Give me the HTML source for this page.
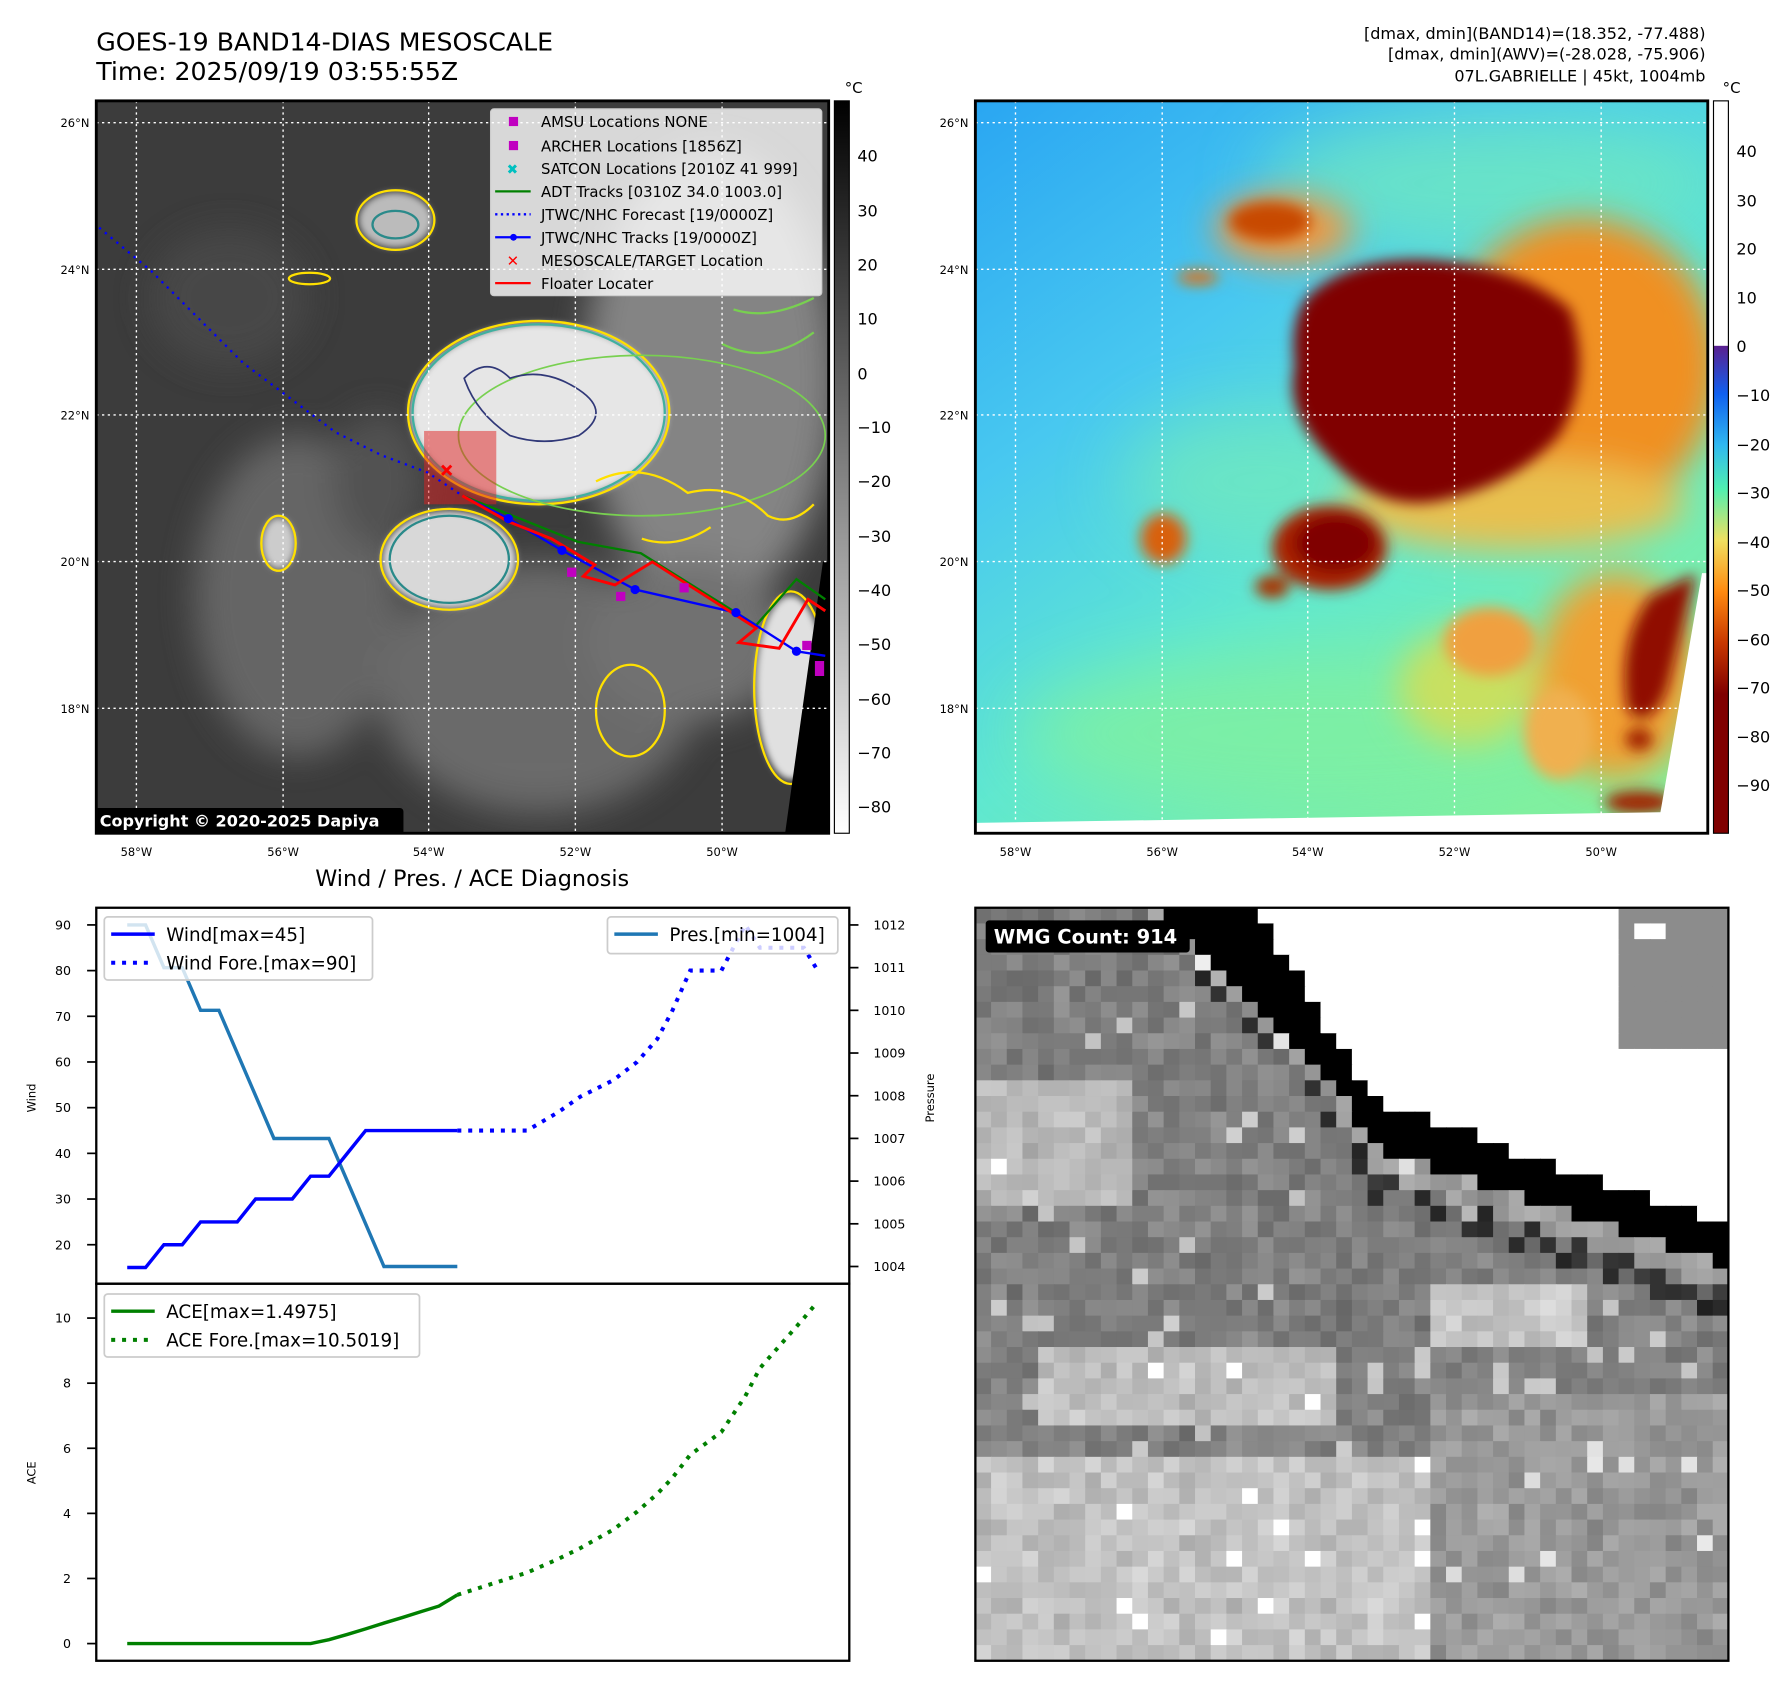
<!DOCTYPE html>
<html><head><meta charset="utf-8"><style>
html,body{margin:0;padding:0;background:#fff;}
svg{display:block;font-family:"DejaVu Sans","Liberation Sans",sans-serif;}
</style></head><body>
<svg id="root" width="1788" height="1690" viewBox="0 0 1560 1474.5" xmlns="http://www.w3.org/2000/svg">
<defs>
<filter id="b6" x="-30%" y="-30%" width="160%" height="160%"><feGaussianBlur stdDeviation="6"/></filter>
<filter id="b3" x="-30%" y="-30%" width="160%" height="160%"><feGaussianBlur stdDeviation="3"/></filter>
<filter id="b15" x="-50%" y="-50%" width="200%" height="200%"><feGaussianBlur stdDeviation="15"/></filter>
<filter id="b30" x="-50%" y="-50%" width="200%" height="200%"><feGaussianBlur stdDeviation="30"/></filter>
<clipPath id="cl1"><rect x="84" y="88" width="639" height="639"/></clipPath>
<clipPath id="cl2"><rect x="851" y="88" width="639" height="639"/></clipPath>
<clipPath id="cl3"><rect x="851" y="792" width="657" height="657"/></clipPath>
<linearGradient id="gbar" x1="0" y1="0" x2="0" y2="1"><stop offset="0" stop-color="#000"/><stop offset="1" stop-color="#fff"/></linearGradient>
<linearGradient id="jbar" x1="0" y1="0" x2="0" y2="1">
<stop offset="0" stop-color="#fff"/><stop offset="0.334" stop-color="#fff"/>
<stop offset="0.335" stop-color="#5a2090"/><stop offset="0.40" stop-color="#1060f0"/>
<stop offset="0.47" stop-color="#30b8f0"/><stop offset="0.53" stop-color="#50f0b0"/>
<stop offset="0.60" stop-color="#f0e060"/><stop offset="0.67" stop-color="#ff8a10"/>
<stop offset="0.74" stop-color="#c83800"/><stop offset="0.81" stop-color="#800000"/><stop offset="1" stop-color="#800000"/></linearGradient>
<linearGradient id="rbg" x1="0" y1="0" x2="0.7" y2="1"><stop offset="0" stop-color="#2aa6f2"/><stop offset="0.35" stop-color="#48c8f0"/><stop offset="0.65" stop-color="#60e8d0"/><stop offset="1" stop-color="#80f0a0"/></linearGradient>
</defs>

<!-- Titles -->
<text x="84" y="44" font-size="22">GOES-19 BAND14-DIAS MESOSCALE</text>
<text x="84" y="70" font-size="22">Time: 2025/09/19 03:55:55Z</text>
<g font-size="14" text-anchor="end">
<text x="1488" y="34">[dmax, dmin](BAND14)=(18.352, -77.488)</text>
<text x="1488" y="52">[dmax, dmin](AWV)=(-28.028, -75.906)</text>
<text x="1488" y="71">07L.GABRIELLE | 45kt, 1004mb</text>
</g>

<!-- LEFT MAP -->
<g clip-path="url(#cl1)">
<rect x="84" y="88" width="639" height="639" fill="#3c3c3c"/>
<g filter="url(#b15)" opacity="0.9">
<ellipse cx="260" cy="520" rx="90" ry="140" fill="#6a6a6a"/>
<ellipse cx="470" cy="600" rx="140" ry="110" fill="#707070"/>
<ellipse cx="620" cy="330" rx="110" ry="200" fill="#8c8c8c"/>
<ellipse cx="600" cy="560" rx="90" ry="70" fill="#777"/>
<ellipse cx="200" cy="260" rx="70" ry="60" fill="#4a4a4a"/>
<ellipse cx="330" cy="420" rx="40" ry="60" fill="#555"/>
</g>
<g filter="url(#b3)">
<ellipse cx="470" cy="360" rx="112" ry="78" fill="#e6e6e6"/>
<ellipse cx="392" cy="488" rx="58" ry="42" fill="#d8d8d8"/>
<ellipse cx="345" cy="192" rx="32" ry="24" fill="#bbb"/>
<ellipse cx="243" cy="474" rx="14" ry="22" fill="#ccc"/>
<ellipse cx="690" cy="600" rx="30" ry="80" fill="#e0e0e0"/>
</g>
<g fill="none" stroke-width="2">
<ellipse cx="470" cy="360" rx="114" ry="80" stroke="#ffe000"/>
<ellipse cx="470" cy="360" rx="110" ry="77" stroke="#40b0a0"/>
<ellipse cx="560" cy="380" rx="160" ry="70" stroke="#78d050" stroke-width="1.5"/>
<ellipse cx="392" cy="488" rx="60" ry="44" stroke="#ffe000"/>
<ellipse cx="392" cy="488" rx="52" ry="38" stroke="#2a8a8a"/>
<ellipse cx="345" cy="192" rx="34" ry="26" stroke="#ffe000"/>
<ellipse cx="345" cy="196" rx="20" ry="12" stroke="#2a8a8a"/>
<ellipse cx="243" cy="474" rx="15" ry="24" stroke="#ffe000"/>
<ellipse cx="270" cy="243" rx="18" ry="5" stroke="#ffe000"/>
<ellipse cx="550" cy="620" rx="30" ry="40" stroke="#ffe000"/>
<ellipse cx="690" cy="600" rx="32" ry="84" stroke="#ffe000"/>
<path d="M405 330 q20 -20 40 0 q30 -10 60 10 q30 20 0 40 q-30 10 -60 0 q-30 -20 -40 -50z" stroke="#303878" stroke-width="1.5"/>
<path d="M520 420 q40 -20 80 10 q40 -10 70 20 q20 10 40 -10 M560 470 q30 10 60 -10" stroke="#ffe000"/>
<path d="M640 270 q30 10 70 -10 M630 300 q40 20 80 -10" stroke="#78d050"/>
</g>
<polygon points="718,490 723,490 723,727 685,727" fill="#000"/>
<g stroke="#fff" stroke-width="1.2" stroke-dasharray="2,3">
<line x1="119" y1="88" x2="119" y2="727"/><line x1="247" y1="88" x2="247" y2="727"/><line x1="374" y1="88" x2="374" y2="727"/><line x1="502" y1="88" x2="502" y2="727"/><line x1="630" y1="88" x2="630" y2="727"/>
<line x1="84" y1="107" x2="723" y2="107"/><line x1="84" y1="235" x2="723" y2="235"/><line x1="84" y1="362" x2="723" y2="362"/><line x1="84" y1="490" x2="723" y2="490"/><line x1="84" y1="618" x2="723" y2="618"/>
</g>
<rect x="370" y="376" width="63" height="64" fill="#e02020" opacity="0.5"/>
<g transform="translate(84,88) scale(0.5028) translate(-165,-185)" fill="none">
<polyline points="170,405 260,480 340,560 420,640 500,700 580,760 660,800 740,830 800,870" stroke="#0000ff" stroke-width="4" stroke-dasharray="4,9"/>
<polyline points="800,870 1000,950 1110,970 1310,1095 1380,1015 1430,1050" stroke="#008000" stroke-width="4"/>
<polyline points="800,870 880,910 973,965 1100,1033 1275,1073 1380,1140 1430,1148" stroke="#0000ff" stroke-width="4"/>
<polyline points="800,870 880,915 955,945 1030,990 1010,1010 1065,1025 1130,985 1310,1100 1280,1125 1350,1135 1400,1050 1430,1070" stroke="#ff0000" stroke-width="5"/>
<g fill="#0000ff"><circle cx="880" cy="910" r="8"/><circle cx="973" cy="965" r="8"/><circle cx="1100" cy="1033" r="8"/><circle cx="1275" cy="1073" r="8"/><circle cx="1380" cy="1140" r="8"/></g>
<g fill="#c000c0"><rect x="982" y="995" width="16" height="16"/><rect x="1067" y="1037" width="16" height="16"/><rect x="1177" y="1022" width="16" height="16"/><rect x="1390" y="1122" width="16" height="16"/><rect x="1412" y="1157" width="16" height="26"/></g>
<path d="M765 818 l16 16 M781 818 l-16 16" stroke="#ff0000" stroke-width="5"/>
</g>
<rect x="80" y="705" width="272" height="24" rx="3" fill="#000"/>
<text x="87" y="721" font-size="14" font-weight="bold" fill="#fff">Copyright © 2020-2025 Dapiya</text>
</g>
<rect x="84" y="88" width="639" height="639" fill="none" stroke="#000" stroke-width="2.5"/>
<!-- legend left map -->
<g>
<rect x="428" y="95" width="289" height="163" rx="3" fill="#fff" fill-opacity="0.8" stroke="#ccc"/>
<g font-size="13">
<rect x="444" y="102" width="8" height="8" fill="#c000c0"/><text x="472" y="111">AMSU Locations NONE</text>
<rect x="444" y="123" width="8" height="8" fill="#c000c0"/><text x="472" y="132">ARCHER Locations [1856Z]</text>
<text x="442" y="152" fill="#00c0c0" font-size="12">✖</text><text x="472" y="152">SATCON Locations [2010Z 41 999]</text>
<line x1="432" y1="167" x2="463" y2="167" stroke="#008000" stroke-width="2"/><text x="472" y="172">ADT Tracks [0310Z 34.0 1003.0]</text>
<line x1="432" y1="187" x2="463" y2="187" stroke="#0000ff" stroke-width="2" stroke-dasharray="2,3"/><text x="472" y="192">JTWC/NHC Forecast [19/0000Z]</text>
<line x1="432" y1="207" x2="463" y2="207" stroke="#0000ff" stroke-width="2"/><circle cx="448" cy="207" r="3" fill="#0000ff"/><text x="472" y="212">JTWC/NHC Tracks [19/0000Z]</text>
<text x="442" y="232" fill="#ff0000" font-size="13" font-weight="bold">✕</text><text x="472" y="232">MESOSCALE/TARGET Location</text>
<line x1="432" y1="247" x2="463" y2="247" stroke="#ff0000" stroke-width="2"/><text x="472" y="252">Floater Locater</text>
</g></g>
<!-- left map ticks -->
<g font-size="10">
<g text-anchor="middle"><text x="119" y="747">58°W</text><text x="247" y="747">56°W</text><text x="374" y="747">54°W</text><text x="502" y="747">52°W</text><text x="630" y="747">50°W</text></g>
<g text-anchor="end"><text x="78" y="111">26°N</text><text x="78" y="239">24°N</text><text x="78" y="366">22°N</text><text x="78" y="494">20°N</text><text x="78" y="622">18°N</text></g>
</g>
<!-- left colorbar -->
<g>
<rect x="728" y="88" width="13" height="639" fill="url(#gbar)" stroke="#000" stroke-width="1"/>
<text x="737" y="81" font-size="13">°C</text>
<g font-size="14"><text x="748" y="141">40</text><text x="748" y="189">30</text><text x="748" y="236">20</text><text x="748" y="283">10</text><text x="748" y="331">0</text><text x="748" y="378">−10</text><text x="748" y="425">−20</text><text x="748" y="473">−30</text><text x="748" y="520">−40</text><text x="748" y="567">−50</text><text x="748" y="615">−60</text><text x="748" y="662">−70</text><text x="748" y="709">−80</text></g>
</g>

<!-- RIGHT MAP -->
<g clip-path="url(#cl2)">
<rect x="851" y="88" width="639" height="639" fill="url(#rbg)"/>
<g filter="url(#b30)" opacity="0.8">
<ellipse cx="1150" cy="640" rx="260" ry="70" fill="#80f0a0"/>
<ellipse cx="1300" cy="160" rx="200" ry="60" fill="#70e8c0"/>
<ellipse cx="1100" cy="420" rx="120" ry="60" fill="#70e8c0"/>
</g>
<g filter="url(#b15)">
<ellipse cx="1380" cy="320" rx="120" ry="130" fill="#f09020"/>
<ellipse cx="1320" cy="440" rx="150" ry="40" fill="#e8c050"/>
<ellipse cx="1410" cy="590" rx="70" ry="90" fill="#f0a030"/>
<ellipse cx="1280" cy="600" rx="60" ry="50" fill="#c8e060"/>
<ellipse cx="1120" cy="200" rx="60" ry="30" fill="#f09840"/>
</g>
<g filter="url(#b6)">
<path d="M1140 260 Q1180 220 1260 228 Q1330 235 1370 270 Q1390 330 1360 380 Q1320 425 1250 438 Q1200 445 1160 400 Q1120 360 1130 320 Q1125 280 1140 260Z" fill="#800000"/>
<ellipse cx="1160" cy="478" rx="50" ry="37" fill="#a82000"/>
<ellipse cx="1165" cy="474" rx="36" ry="25" fill="#800000"/>
<ellipse cx="1110" cy="512" rx="15" ry="10" fill="#a83000"/>
<ellipse cx="1015" cy="470" rx="20" ry="22" fill="#d86010"/>
<ellipse cx="1108" cy="193" rx="36" ry="17" fill="#c84800"/>
<ellipse cx="1045" cy="242" rx="18" ry="6" fill="#e07010"/>
<path d="M1480 500 L1455 600 Q1440 640 1420 620 Q1410 560 1440 520Z" fill="#900800"/>
<ellipse cx="1430" cy="645" rx="12" ry="10" fill="#a02000"/>
<ellipse cx="1430" cy="700" rx="30" ry="10" fill="#a02000"/>
<ellipse cx="1300" cy="560" rx="40" ry="30" fill="#f0a040"/>
<ellipse cx="1360" cy="640" rx="30" ry="40" fill="#f0b050"/>
</g>
<polygon points="1485,500 1495,500 1495,730 1445,730" fill="#fff"/>
<polygon points="851,718 1490,708 1490,730 851,730" fill="#fff"/>
<g stroke="#fff" stroke-width="1.2" stroke-dasharray="2,3">
<line x1="886" y1="88" x2="886" y2="727"/><line x1="1014" y1="88" x2="1014" y2="727"/><line x1="1141" y1="88" x2="1141" y2="727"/><line x1="1269" y1="88" x2="1269" y2="727"/><line x1="1397" y1="88" x2="1397" y2="727"/>
<line x1="851" y1="107" x2="1490" y2="107"/><line x1="851" y1="235" x2="1490" y2="235"/><line x1="851" y1="362" x2="1490" y2="362"/><line x1="851" y1="490" x2="1490" y2="490"/><line x1="851" y1="618" x2="1490" y2="618"/>
</g>
</g>
<rect x="851" y="88" width="639" height="639" fill="none" stroke="#000" stroke-width="2.5"/>
<g font-size="10">
<g text-anchor="middle"><text x="886" y="747">58°W</text><text x="1014" y="747">56°W</text><text x="1141" y="747">54°W</text><text x="1269" y="747">52°W</text><text x="1397" y="747">50°W</text></g>
<g text-anchor="end"><text x="845" y="111">26°N</text><text x="845" y="239">24°N</text><text x="845" y="366">22°N</text><text x="845" y="494">20°N</text><text x="845" y="622">18°N</text></g>
</g>
<g>
<rect x="1495" y="88" width="13" height="639" fill="url(#jbar)" stroke="#000" stroke-width="1"/>
<text x="1503" y="81" font-size="13">°C</text>
<g font-size="14"><text x="1515" y="137">40</text><text x="1515" y="180">30</text><text x="1515" y="222">20</text><text x="1515" y="265">10</text><text x="1515" y="307">0</text><text x="1515" y="350">−10</text><text x="1515" y="393">−20</text><text x="1515" y="435">−30</text><text x="1515" y="478">−40</text><text x="1515" y="520">−50</text><text x="1515" y="563">−60</text><text x="1515" y="605">−70</text><text x="1515" y="648">−80</text><text x="1515" y="690">−90</text></g>
</g>

<!-- BOTTOM LEFT CHARTS -->
<text x="412" y="773" font-size="19.5" text-anchor="middle">Wind / Pres. / ACE Diagnosis</text>
<g id="charts"></g>
<rect x="84" y="792" width="657" height="328" fill="none" stroke="#000" stroke-width="2"/>
<rect x="84" y="1120" width="657" height="329" fill="none" stroke="#000" stroke-width="2"/>
<text transform="translate(31,958) rotate(-90)" font-size="10" text-anchor="middle">Wind</text>
<text transform="translate(815,958) rotate(-90)" font-size="10" text-anchor="middle">Pressure</text>
<text transform="translate(31,1285) rotate(-90)" font-size="10" text-anchor="middle">ACE</text>
<g id="legends">
<g>
<rect x="91" y="800" width="234" height="55" rx="3" fill="#fff" fill-opacity="0.8" stroke="#ccc" stroke-width="1.5"/>
<line x1="97" y1="815" x2="135" y2="815" stroke="#0000ff" stroke-width="3"/><text x="145" y="821" font-size="16">Wind[max=45]</text>
<line x1="97" y1="840" x2="135" y2="840" stroke="#0000ff" stroke-width="3.5" stroke-dasharray="3.5,6"/><text x="145" y="846" font-size="16">Wind Fore.[max=90]</text>
</g>
<g>
<rect x="530" y="800" width="201" height="32" rx="3" fill="#fff" fill-opacity="0.8" stroke="#ccc" stroke-width="1.5"/>
<line x1="536" y1="815" x2="574" y2="815" stroke="#1f77b4" stroke-width="3"/><text x="584" y="821" font-size="16">Pres.[min=1004]</text>
</g>
<g>
<rect x="91" y="1129" width="275" height="55" rx="3" fill="#fff" fill-opacity="0.8" stroke="#ccc" stroke-width="1.5"/>
<line x1="97" y1="1144" x2="135" y2="1144" stroke="#008000" stroke-width="3"/><text x="145" y="1150" font-size="16">ACE[max=1.4975]</text>
<line x1="97" y1="1169" x2="135" y2="1169" stroke="#008000" stroke-width="3.5" stroke-dasharray="3.5,6"/><text x="145" y="1175" font-size="16">ACE Fore.[max=10.5019]</text>
</g>
</g>

<!-- BOTTOM RIGHT -->
<g clip-path="url(#cl3)" id="mosaic"></g>
<rect x="851" y="792" width="657" height="657" fill="none" stroke="#000" stroke-width="2"/>
<rect x="860" y="803" width="178" height="28" rx="3" fill="#000"/>
<text x="867" y="823" font-size="17" font-weight="bold" fill="#fff">WMG Count: 914</text>
</svg>
<script>
// ---- chart data ----
const obsSteps = [0,1,2,3,4,5,6,7,8,9,10,11,12,13,14,15,16,17,18];
const windObs = [15,15,20,20,25,25,25,30,30,30,35,35,40,45,45,45,45,45,45];
const presObs = [1012,1012,1011,1011,1010,1010,1009,1008,1007,1007,1007,1007,1006,1005,1004,1004,1004,1004,1004];
const aceObs = [0,0,0,0,0,0,0,0,0,0,0,0.12,0.28,0.45,0.63,0.8,0.98,1.15,1.4975];
const foreSteps = [18,21.8,23.5,24.7,26.5,27.8,28.9,29.7,30.7,32.4,33.7,34.5,36.9,37.65];
const windFore = [45,45,49,52.4,56,60,65,71,80,80,90,85,85,80];
const aceFore = [1.4975,2.18,2.6,2.93,3.5,4.05,4.6,5.07,5.8,6.5,7.6,8.46,10.0,10.5019];
const windTicks = [20,30,40,50,60,70,80,90];
const presTicks = [1004,1005,1006,1007,1008,1009,1010,1011,1012];
const aceTicks = [0,2,4,6,8,10];

const NS='http://www.w3.org/2000/svg';
const xS = i => 111 + i*16;
const yW = v => 1086 - (v-20)*3.986;
const yP = v => 1105 - (v-1004)*37.25;
const yA = v => 1434 - v*28.4;
const charts = document.getElementById('charts');
const legends = document.getElementById('legends');
function mk(tag, attrs, parent){const e=document.createElementNS(NS,tag);for(const k in attrs)e.setAttribute(k,attrs[k]);(parent||charts).appendChild(e);return e;}
function pts(xs, ys, yf){return xs.map((s,i)=>xS(s).toFixed(1)+','+yf(ys[i]).toFixed(1)).join(' ');}

let e;
e = mk('polyline',{points:pts(obsSteps,presObs,yP),fill:'none',stroke:'#1f77b4','stroke-width':3});


e = mk('polyline',{points:pts(obsSteps,windObs,yW),fill:'none',stroke:'#0000ff','stroke-width':3});


e = mk('polyline',{points:pts(foreSteps,windFore,yW),fill:'none',stroke:'#0000ff','stroke-width':3.5,'stroke-dasharray':'3.5,6'});


e = mk('polyline',{points:pts(obsSteps,aceObs,yA),fill:'none',stroke:'#008000','stroke-width':3});


e = mk('polyline',{points:pts(foreSteps,aceFore,yA),fill:'none',stroke:'#008000','stroke-width':3.5,'stroke-dasharray':'3.5,6'});



windTicks.forEach(v=>{const y=yW(v);
 e=mk('line',{x1:76,x2:84,y1:y,y2:y,stroke:'#000','stroke-width':1.5});
 
 
 e=mk('text',{x:62,y:y+4,'font-size':11,'text-anchor':'end'}); e.textContent=v;
 
 });
presTicks.forEach(v=>{const y=yP(v);
 e=mk('line',{x1:741,x2:749,y1:y,y2:y,stroke:'#000','stroke-width':1.5});
 
 
 e=mk('text',{x:762,y:y+4,'font-size':11}); e.textContent=v;
 
 });
aceTicks.forEach(v=>{const y=yA(v);
 e=mk('line',{x1:76,x2:84,y1:y,y2:y,stroke:'#000','stroke-width':1.5});
 
 
 e=mk('text',{x:62,y:y+4,'font-size':11,'text-anchor':'end'}); e.textContent=v;
 
 });
charts.parentNode.appendChild(legends);

// ---- WMG mosaic (image texture) ----
const mos = document.getElementById('mosaic');
function h(i,j){let n=(i*374761393 + j*668265263)>>>0; n=(n^(n>>>13))*1274126177>>>0; return ((n^(n>>>16))>>>0)/4294967295;}
const N=48, cs=657/N;
for(let j=0;j<N;j++){for(let i=0;i<N;i++){
 const u=(i+0.5)*cs, v=(j+0.5)*cs;
 const B = u<348 ? (u-246)*1.67 : 170+(u-348)*0.34;
 const d = v - B;
 const T = 38 + 104*Math.max(0,1-v/170);
 let g;
 if(d<0){ g = (u>560 && v<130) ? 0.55 : 1.0; if(u>580&&u<600&&v>10&&v<25) g=1.0; }
 else if(d<T) g=0;
 else g=null;
 if(g===null){
   const r=h(i,j), r2=h(j+7,i+3);
   const dd=d-T;
   let base=0.52;
   if(dd<22) base=0.62;
   else if(dd<45) base = r<0.5?0.22:0.42;
   else {
     if(v>480 && u<400) base=0.76;
     else if(v>380 && v<450 && u>60 && u<320) base=0.76;
     else if(v>150 && v<260 && u<140) base=0.74;
     else if(v>430 && u>=400) base=0.6;
     else if(v>330 && v<390 && u>400 && u<540) base=0.78;
     else base=0.5;
   }
   g = base + (r-0.5)*0.14 + (r2-0.5)*0.06;
   if(r>0.97) g=Math.min(1,g+0.22);
 }
 const c=Math.round(Math.max(0,Math.min(1,g))*255);
 const r=document.createElementNS(NS,'rect');
 r.setAttribute('x',(851+i*cs).toFixed(2)); r.setAttribute('y',(792+j*cs).toFixed(2));
 r.setAttribute('width',(cs+0.6).toFixed(2)); r.setAttribute('height',(cs+0.6).toFixed(2));
 r.setAttribute('fill',`rgb(${c},${c},${c})`);
 
 
 mos.appendChild(r);
}}
</script>
</body></html>
